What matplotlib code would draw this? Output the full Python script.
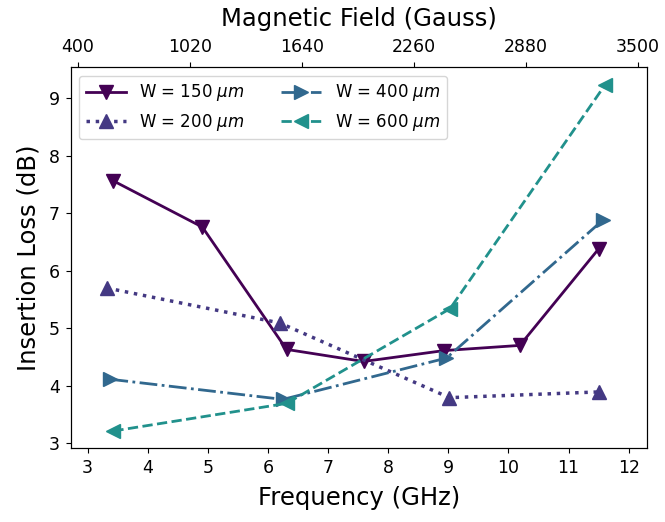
import matplotlib
matplotlib.use("Agg")
import matplotlib.pyplot as plt
import numpy as np

# Datos
f_150 = [3.42, 4.91, 6.31, 7.59, 8.93, 10.19, 11.50]
il_150 = [7.57, 6.76, 4.63, 4.42, 4.61, 4.70, 6.38]

f_200 = [3.32, 6.20, 9.02, 11.50]
il_200 = [5.70, 5.09, 3.79, 3.89]

f_400 = [3.38, 6.25, 8.97, 11.58]
il_400 = [4.11, 3.76, 4.48, 6.89]

f_600 = [3.43, 6.31, 9.03, 11.61]
il_600 = [3.21, 3.69, 5.34, 9.24]

campo_ticks = np.linspace(400, 3500, 6)

colores = plt.cm.viridis(np.linspace(0, 0.5, 4))

fig = plt.figure(figsize=(6.65, 5.22), dpi=100)
ax = fig.add_axes([0.1063, 0.1412, 0.8662, 0.7298])

ax.plot(f_150, il_150, color=colores[0], ls="-", marker="v", ms=10, lw=2, label=r"W = 150 $\mu m$")
ax.plot(f_200, il_200, color=colores[1], ls=":", marker="^", ms=10, lw=2.5, label=r"W = 200 $\mu m$")
ax.plot(f_400, il_400, color=colores[2], ls="-.", marker=">", ms=10, lw=2, label=r"W = 400 $\mu m$")
ax.plot(f_600, il_600, color=colores[3], ls="--", marker="<", ms=10, lw=2, label=r"W = 600 $\mu m$")

ax.set_xlim(2.72, 12.3)
ax.set_xticks(range(3, 13))
ax.tick_params(labelsize=12.5, pad=4.5)
ax.set_xlabel("Frequency (GHz)", fontsize=17.5, labelpad=6)
ax.set_ylabel("Insertion Loss (dB)", fontsize=17.5, labelpad=6)
ax.legend(ncol=2, loc="upper left", fontsize=12, handlelength=2.4, columnspacing=2.2)

# --- Eje superior: campo magnético ---
ax2 = ax.twiny()
ax2.set_xlim(360, 3548)
ax2.set_xticks(campo_ticks)
ax2.set_xticklabels([f"{int(v)}" for v in campo_ticks])
ax2.tick_params(labelsize=12.5, pad=4.5)
ax2.set_xlabel("Magnetic Field (Gauss)", fontsize=17.5, labelpad=9)

plt.savefig("out.png", dpi=100)
